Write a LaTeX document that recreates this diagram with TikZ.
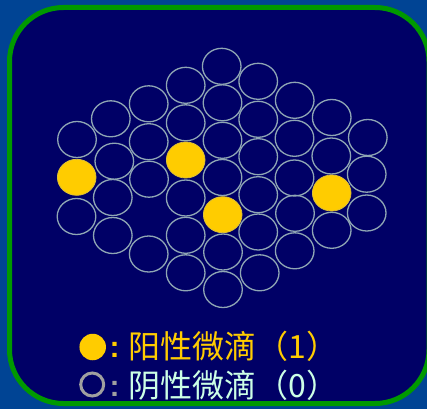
\documentclass[tikz,border=0pt]{standalone}
\usepackage{fontspec}
\newfontfamily\cjk{Noto Sans CJK SC}
\newfontfamily\latinb{Liberation Sans}[BoldFont={Liberation Sans Bold}]
\usetikzlibrary{shapes.geometric}
\definecolor{outerblue}{HTML}{004494}
\definecolor{navy}{HTML}{000066}
\definecolor{framegreen}{HTML}{009900}
\definecolor{ringc}{HTML}{8FA6B4}
\definecolor{yel}{HTML}{FFCC00}
\definecolor{mint}{HTML}{CCFFE6}
\definecolor{legray}{HTML}{A0A0A0}
\tikzset{
  drop/.style={ellipse, inner sep=0pt, minimum width=38.6pt, minimum height=36pt, draw=ringc, line width=1.3pt},
  posdrop/.style={drop, fill=yel, draw=yel!70!ringc, line width=0.8pt},
  legtext/.style={inner sep=0pt, anchor=base west, font=\cjk\fontsize{32}{36}\selectfont},
  colon/.style={inner sep=0pt, anchor=base west, font=\latinb\bfseries\fontsize{30}{36}\selectfont}
}
\begin{document}
\begin{tikzpicture}[x=1pt,y=-1pt]
\useasboundingbox (0,0) rectangle (427,409);
\fill[outerblue] (0,0) rectangle (427,409);
\draw[framegreen, fill=navy, line width=5pt, rounded corners=54pt] (9.5,7.5) rectangle (429,403.5);
% negative droplets
\foreach \n/\x/\y in {
  a1/77/139.5, a3/76.5/216.5,
  b1/110.8/118.8, b2/114.3/161.2, b3/112.8/197.5, b4/112.8/235.5,
  c1/148.7/103.8, c2/148.7/141.7, c3/149/179.2, c4/148.7/254,
  d1/185.7/85.3, d2/185.7/122.8, d4/185.7/198, d5/185.7/235.3, d6/185.7/272.8,
  e1/221.7/66.3, e2/222.5/102.8, e3/222.5/140.3, e4/222.5/177.5, e6/223/252, e7/223/289.5,
  f1/258.2/81.3, f2/258.2/119.3, f3/258.2/156.7, f4/258.2/194.7, f5/258.2/232, f6/259.7/272.8,
  g1/294.7/100.3, g2/294.5/138.3, g3/294.5/178, g4/295/213.3, g5/294.7/250.8,
  h1/331.7/117.5, h2/331.3/156, h4/331.7/230.3,
  i1/367.8/137.5, i2/366.7/174.2, i3/366.7/213}
  \node[drop] (\n) at (\x,\y) {};
% positive droplets
\foreach \n/\x/\y in {a2/76.7/177.3, d3/185.7/160, e5/222.7/214.7, h3/331.7/193}
  \node[posdrop] (\n) at (\x,\y) {};
% legend
\node[circle, fill=yel, inner sep=0pt, minimum size=26.5pt] (ly) at (92.7,347) {};
\node[circle, draw=legray, line width=3pt, inner sep=0pt, minimum size=23pt] (lg) at (92.2,384.5) {};
\node[colon, text=yel] (c1) at (109.5,357.5) {:};
\node[colon, text=legray] (c2) at (109.5,396.5) {:};
\node[legtext, text=yel] (t1) at (128.5,358.5) {阳性微滴（1）};
\node[legtext, text=mint] (t2) at (128.5,397.5) {阴性微滴（0）};
\end{tikzpicture}
\end{document}
